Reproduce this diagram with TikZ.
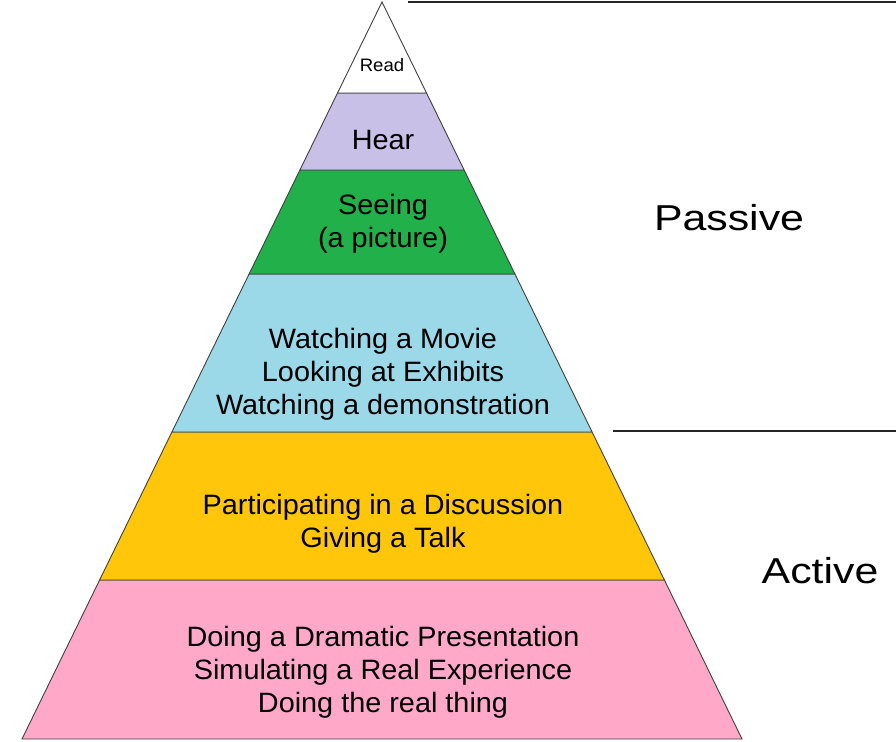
\documentclass[tikz,border=0pt]{standalone}
\usepackage{fontspec}
\setmainfont{Liberation Sans}
\definecolor{cread}{RGB}{255,255,255}
\definecolor{chear}{RGB}{200,192,230}
\definecolor{csee}{RGB}{34,176,74}
\definecolor{cwatch}{RGB}{155,216,232}
\definecolor{cpart}{RGB}{255,198,10}
\definecolor{cdo}{RGB}{255,168,200}
\begin{document}
\begin{tikzpicture}[x=1pt,y=-1pt,
  layer/.style={draw=black!75,line width=0.9pt,line join=miter},
  lbl/.style={font=\fontsize{28}{33}\selectfont,align=center,inner sep=0pt,xscale=1.03},
  side/.style={font=\fontsize{36}{40}\selectfont,inner sep=0pt,xscale=1.19},
  rule/.style={draw=black!85,line width=1.1pt}]
\useasboundingbox (0,0) rectangle (896,741);
% layers
\filldraw[layer,fill=cdo] (22,739) -- (742,739) -- (664.4,580) -- (99.6,580) -- cycle;
\filldraw[layer,fill=cpart] (99.6,580) -- (664.4,580) -- (592.1,432) -- (171.9,432) -- cycle;
\filldraw[layer,fill=cwatch] (171.9,432) -- (592.1,432) -- (514.9,274) -- (249.1,274) -- cycle;
\filldraw[layer,fill=csee] (249.1,274) -- (514.9,274) -- (464.1,170) -- (299.9,170) -- cycle;
\filldraw[layer,fill=chear] (299.9,170) -- (464.1,170) -- (426.5,93) -- (337.5,93) -- cycle;
\filldraw[layer,fill=cread] (337.5,93) -- (426.5,93) -- (382,2) -- cycle;
% texts
\node[lbl,font=\fontsize{18}{20}\selectfont] (read) at (382,65) {Read};
\node[lbl] (hear) at (383,140) {Hear};
\node[lbl] (see) at (383,224) {Seeing\\(a picture)};
\node[lbl] (watch) at (383,374) {Watching a Movie\\Looking at Exhibits\\Watching a demonstration};
\node[lbl] (part) at (383,524) {Participating in a Discussion\\Giving a Talk};
\node[lbl] (do) at (383,672) {Doing a Dramatic Presentation\\Simulating a Real Experience\\Doing the real thing};
% side labels and rules
\coordinate (r1a) at (408,2);
\coordinate (r1b) at (896,2);
\coordinate (r2a) at (613,431);
\coordinate (r2b) at (896,431);
\draw[rule] (r1a) -- (r1b);
\draw[rule] (r2a) -- (r2b);
\node[side] (passive) at (729,218) {Passive};
\node[side] (active) at (820,571) {Active};
\end{tikzpicture}
\end{document}
